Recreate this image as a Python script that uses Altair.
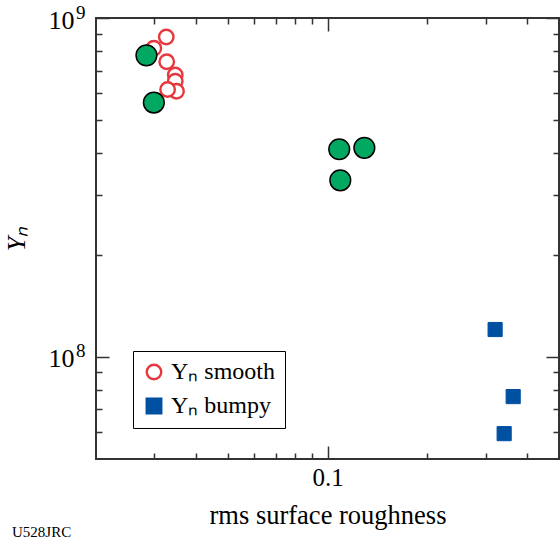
import altair as alt
import pandas as pd

# --- data ---
smooth_x = [0.0326, 0.0299, 0.0327, 0.0347, 0.0347, 0.0350, 0.0329]
smooth_y = [8.79e8, 8.14e8, 7.43e8, 6.79e8, 6.51e8, 6.08e8, 6.15e8]
bumpy_x = [0.3207, 0.3636, 0.3415]
bumpy_y = [1.205e8, 7.64e7, 5.94e7]
green_x = [0.0284, 0.0299, 0.1085, 0.1292, 0.1093]
green_y = [7.76e8, 5.63e8, 4.10e8, 4.14e8, 3.32e8]
series_names = ["Yₙ smooth", "Yₙ bumpy"]

x_ticks = [0.03, 0.04, 0.05, 0.06, 0.07, 0.08, 0.09, 0.1, 0.2, 0.3, 0.4]
y_ticks = [6e7, 7e7, 8e7, 9e7, 1e8, 2e8, 3e8, 4e8, 5e8, 6e8, 7e8, 8e8, 9e8, 1e9]
y_major = [1e8, 1e9]

smooth = pd.DataFrame({"x": smooth_x, "y": smooth_y, "s": [series_names[0]] * len(smooth_x)})
bumpy = pd.DataFrame({"x": bumpy_x, "y": bumpy_y, "s": [series_names[1]] * len(bumpy_x)})
green = pd.DataFrame({"x": green_x, "y": green_y})

FONT = "Liberation Serif"
RED = "#E5393F"
BLUE = "#0050A2"
GREEN = "#00A862"
DARK = "#333333"

xscale = alt.Scale(type="log", domain=[0.02, 0.5], nice=False)
yscale = alt.Scale(type="log", domain=[5e7, 1e9], nice=False)

# inward ticks: axis line moved 13px inside, ticks drawn outward to the frame;
# minor ticks dashed so only the outer 6px show
x_minor_dash = alt.ConditionalAxisNumberArray(
    condition={"test": "abs(datum.value - 0.1) < 1e-9", "value": [20, 0]}, value=[0, 7, 6, 0])
y_minor_dash = alt.ConditionalAxisNumberArray(
    condition={"test": "abs(datum.value - 1e8) < 1 || abs(datum.value - 1e9) < 1", "value": [20, 0]},
    value=[0, 7, 6, 0])

common_axis = dict(domain=False, grid=False, tickColor=DARK, tickWidth=1.5,
                   tickSize=13, offset=-13, labelFont=FONT, titleFont=FONT,
                   labelColor="black", titleColor="black")

x_bottom = alt.Axis(orient="bottom", values=x_ticks, tickDash=x_minor_dash,
                    labelExpr="abs(datum.value - 0.1) < 1e-9 ? '0.1' : ''",
                    labelFontSize=25, labelPadding=6,
                    title="rms surface roughness", titleFontSize=26.5,
                    titleFontWeight="normal", titlePadding=12, **common_axis)
y_left = alt.Axis(orient="left", values=y_ticks, tickDash=y_minor_dash,
                  labelExpr="(abs(datum.value - 1e8) < 1 || abs(datum.value - 1e9) < 1) ? '10' : ''",
                  labelFontSize=26, labelPadding=22, labelOffset=2,
                  title="Yₙ", titleFontSize=26, titleFontStyle="italic",
                  titleFontWeight="normal", titlePadding=19, **common_axis)
x_top = alt.Axis(orient="top", values=x_ticks, tickDash=x_minor_dash,
                 labels=False, title=None, **common_axis)
y_right = alt.Axis(orient="right", values=y_ticks, tickDash=y_minor_dash,
                   labels=False, title=None, **common_axis)
# superscript exponents of the left labels
y_sup = alt.Axis(orient="left", values=y_major, domain=False, grid=False, ticks=False,
                 labelExpr="abs(datum.value - 1e8) < 1 ? '8' : '9'",
                 labelFont=FONT, labelFontSize=19, labelColor="black",
                 labelPadding=11, labelOffset=-6, title=None)

legend_enc = dict(
    shape=alt.Shape("s:N", scale=alt.Scale(domain=series_names, range=["circle", "square"]),
                    legend=alt.Legend(title=None)),
    stroke=alt.Stroke("s:N", scale=alt.Scale(domain=series_names, range=[RED, BLUE]),
                      legend=alt.Legend(title=None)),
    fill=alt.Fill("s:N", scale=alt.Scale(domain=series_names, range=["white", BLUE]),
                  legend=alt.Legend(title=None)),
)

smooth_layer = alt.Chart(smooth).mark_point(strokeWidth=2.4, opacity=1, size=210).encode(
    x=alt.X("x:Q", scale=xscale, axis=x_bottom),
    y=alt.Y("y:Q", scale=yscale, axis=y_left),
    **legend_enc,
)

bumpy_layer = alt.Chart(bumpy).mark_point(strokeWidth=1, opacity=1, size=200).encode(
    x=alt.X("x:Q", scale=xscale, axis=None),
    y=alt.Y("y:Q", scale=yscale, axis=y_sup),
    **legend_enc,
)

green_layer = alt.Chart(green).mark_point(
    shape="circle", filled=True, fill=GREEN, stroke="black", strokeWidth=1.5,
    opacity=1, size=430
).encode(
    x=alt.X("x:Q", scale=xscale, axis=x_top),
    y=alt.Y("y:Q", scale=yscale, axis=y_right),
)

chart = alt.layer(smooth_layer, bumpy_layer, green_layer).resolve_axis(
    x="independent", y="independent"
).properties(
    width=463, height=441,
    autosize=alt.AutoSizeParams(type="none"),
    padding={"left": 96, "top": 18, "right": 1, "bottom": 80},
    title=alt.TitleParams("U528JRC", orient="bottom", anchor="start", frame="group",
                          font=FONT, fontSize=15, fontWeight="normal", color="black",
                          dx=-84, offset=-4),
).configure_view(
    stroke=DARK, strokeWidth=2
).configure_legend(
    orient="none", legendX=37, legendY=333,
    strokeColor="black", strokeWidth=1, fillColor="white", cornerRadius=0,
    padding=9, labelFont=FONT, labelFontSize=24, labelColor="black",
    symbolSize=210, symbolStrokeWidth=2.4, rowPadding=8, labelOffset=5,
)

chart.save("out.html", embed_options={"renderer": "svg", "actions": False})
